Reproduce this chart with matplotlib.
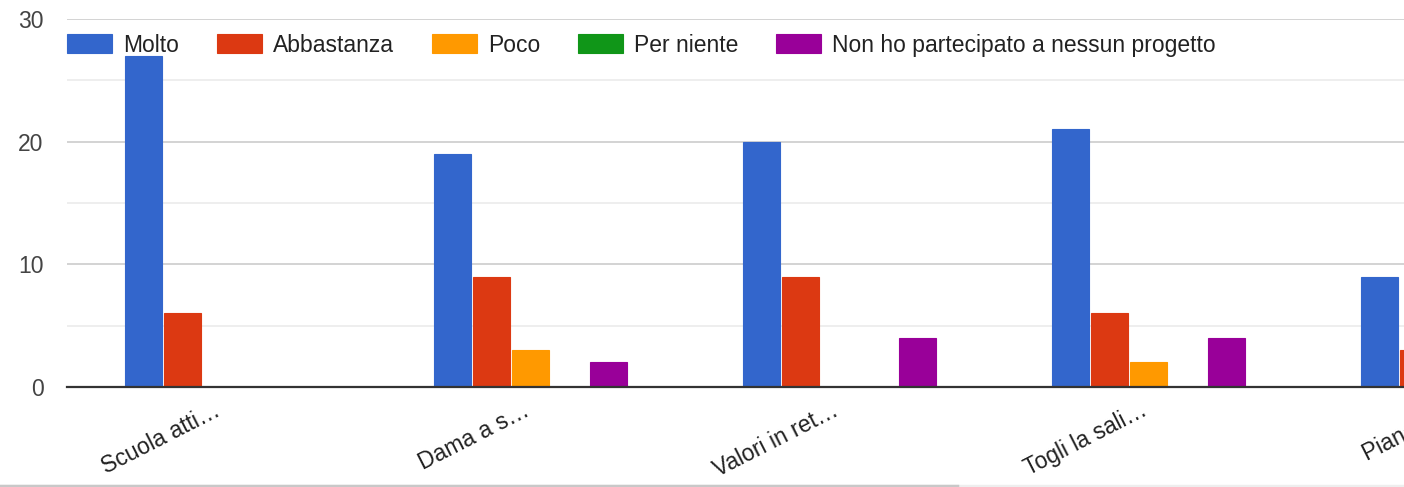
import numpy as np
import matplotlib.pyplot as plt
from matplotlib.lines import Line2D

plt.rcParams['font.family'] = ['Liberation Sans', 'DejaVu Sans']

# categorie (etichette troncate come nel grafico originale)
progetti = ['Scuola atti…', 'Dama a s…', 'Valori in ret…', 'Togli la sali…', 'Piano tr…']
risposte = ['Molto', 'Abbastanza', 'Poco', 'Per niente', 'Non ho partecipato a nessun progetto']
colori = ['#3366cc', '#dc3912', '#ff9900', '#109618', '#990099']

molto = [27, 19, 20, 21, 9]
abbastanza = [6, 9, 9, 6, 3]
poco = [0, 3, 0, 2, 0]
per_niente = [0, 0, 0, 0, 0]
non_partecipato = [0, 2, 4, 4, 0]
serie = [molto, abbastanza, poco, per_niente, non_partecipato]

fig = plt.figure(figsize=(14.04, 4.87), dpi=100)
# l'asse continua oltre il bordo destro: il grafico originale è tagliato
ax = fig.add_axes([67 / 1404, 100 / 487, 1545 / 1404, 368 / 487])

x = np.arange(len(progetti))
passo = 0.126
larg = 0.118
for i, (vals, nome, col) in enumerate(zip(serie, risposte, colori)):
    ax.bar(x + (i - 2) * passo, vals, width=larg, color=col, label=nome,
           edgecolor=col, linewidth=0.8, zorder=3)

ax.set_yticks([0, 10, 20, 30])
ax.set_yticks([5, 15, 25], minor=True)
ax.grid(axis='y', which='major', color='#cccccc', linewidth=1.2, zorder=0)
ax.grid(axis='y', which='minor', color='#ebebeb', linewidth=1.2, zorder=0)
ax.tick_params(axis='y', which='both', length=0, pad=17, labelsize=16.5, labelcolor='#444444')
for s in ['top', 'right', 'left']:
    ax.spines[s].set_visible(False)
ax.spines['bottom'].set_color('#333333')
ax.spines['bottom'].set_linewidth(1.6)
ax.spines['bottom'].set_zorder(4)

ax.set_xticks(x)
ax.set_xticklabels(progetti, rotation=27, ha='right', va='baseline', rotation_mode='anchor',
                   fontsize=16.5, color='#222222')
ax.tick_params(axis='x', length=0, pad=20)

ax.set_ylim(0, 30)
ax.set_xlim(-0.5, 4.5)

leg = ax.legend(loc='center left', bbox_to_anchor=(0, 0.929), ncol=5, frameon=False,
                fontsize=16.5, handlelength=1.96, handleheight=0.9, handletextpad=0.48,
                columnspacing=1.66, borderaxespad=0, borderpad=0)
for t in leg.get_texts():
    t.set_color('#222222')

# barra di scorrimento in basso
fig.add_artist(Line2D([0, 1], [1.5 / 487, 1.5 / 487], color='#eeeeee', linewidth=2.5))
fig.add_artist(Line2D([0, 957 / 1404], [1.5 / 487, 1.5 / 487], color='#c8c8c8', linewidth=2.5))

fig.savefig('out.png', dpi=100)
